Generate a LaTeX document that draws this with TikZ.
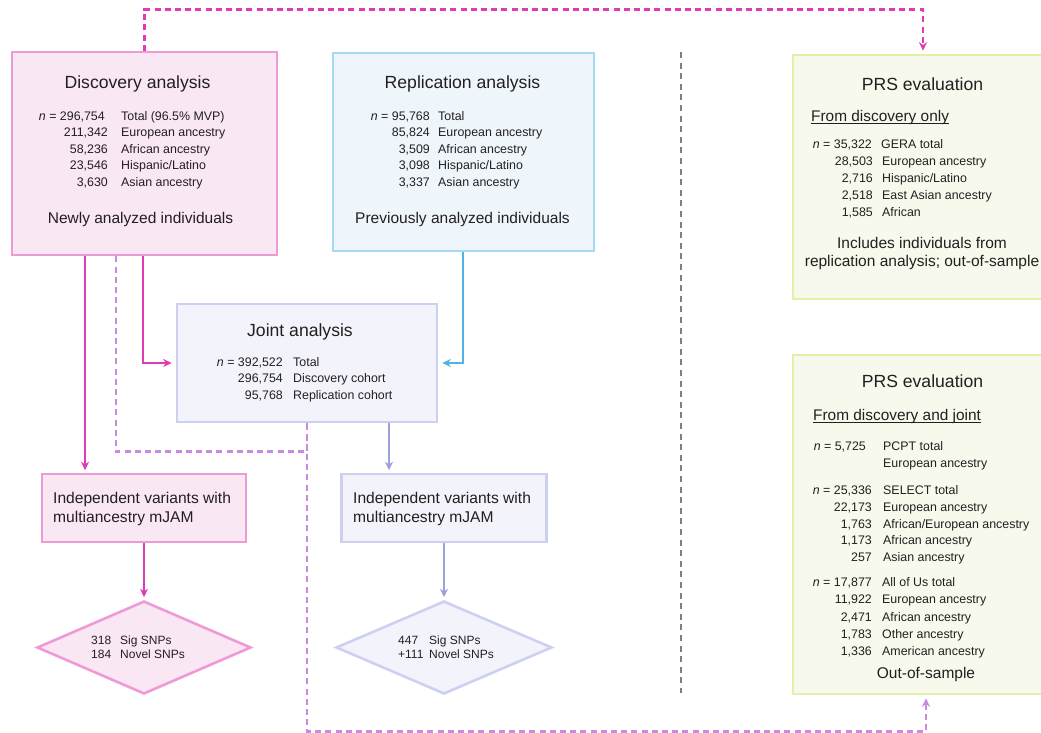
\documentclass[tikz,border=0pt]{standalone}
\usepackage{fontspec}
\setmainfont{Liberation Sans}
\usetikzlibrary{arrows.meta,shapes.geometric}

\definecolor{ink}{HTML}{231F20}
\definecolor{mag}{HTML}{E03BB5}
\definecolor{dfill}{HTML}{FAE7F4}
\definecolor{dline}{HTML}{EE9AD7}
\definecolor{rfill}{HTML}{EEF6FC}
\definecolor{rline}{HTML}{A6DAF3}
\definecolor{rarrow}{HTML}{4FB3E6}
\definecolor{jfill}{HTML}{F3F4FB}
\definecolor{jline}{HTML}{CDD0F1}
\definecolor{jarrow}{HTML}{9CA1DE}
\definecolor{pdashc}{HTML}{CA8ADF}
\definecolor{pfill}{HTML}{F7F9EC}
\definecolor{pline}{HTML}{E2F0A8}
\definecolor{gdashc}{HTML}{7F7F7F}

\tikzset{
  box/.style={draw, rectangle, line width=2.6, inner sep=0},
  dia/.style={draw, diamond, line width=2.6, inner sep=0, aspect=2.3},
  ttl/.style={font=\fontsize{17.6}{20}\selectfont, text=ink, inner sep=0, yshift=-1.5},
  numtxt/.style={anchor=mid east, font=\fontsize{12.4}{14}\selectfont, text=ink, inner sep=0, yshift=-2.5},
  labtxt/.style={anchor=mid west, font=\fontsize{12.4}{14}\selectfont, text=ink, inner sep=0, yshift=-2.5},
  dtxt/.style={anchor=mid west, font=\fontsize{12}{14}\selectfont, text=ink, inner sep=0, yshift=-2.5},
  foot/.style={font=\fontsize{15.5}{18.5}\selectfont, text=ink, inner sep=0, align=center, yshift=-1.5},
  sub/.style={anchor=mid west, font=\fontsize{15.4}{18}\selectfont, text=ink, inner sep=0, yshift=-2.5},
  uline/.style={draw=ink, line width=1},
  indtxt/.style={anchor=west, align=left, font=\fontsize{15.6}{19}\selectfont, text=ink, inner sep=0},
  conn/.style={line width=2.3, -{Stealth[length=8.5,width=8]}, shorten >=2.5},
  mdash/.style={draw=mag, line width=2.8, dash pattern=on 6 off 4.2, -{Stealth[length=8.5,width=8]}, shorten >=3},
  pdash/.style={draw=pdashc, line width=2.8, dash pattern=on 6 off 4.2},
  gdash/.style={draw=gdashc, line width=2.8, dash pattern=on 6 off 4.6}
}
\newcommand{\trow}[6]{\node[numtxt] (#1n) at (#2,#4) {#5};\node[labtxt] (#1l) at (#3,#4) {#6};}

\begin{document}
\begin{tikzpicture}[x=1pt,y=-1pt]
\useasboundingbox (0,0) rectangle (1041,732);
\clip (0,0) rectangle (1041,732);

% ---------- boxes ----------
\node[box, draw=dline, fill=dfill, minimum width=265, minimum height=203] (disc) at (144.5,153.5) {};
\node[box, draw=rline, fill=rfill, minimum width=261, minimum height=198] (repl) at (463.5,152) {};
\node[box, draw=jline, fill=jfill, minimum width=260, minimum height=118] (joint) at (307,363) {};
\node[box, draw=dline, fill=dfill, minimum width=204, minimum height=68] (lind) at (144,508) {};
\node[box, draw=jline, fill=jfill, minimum width=205, minimum height=68] (rind) at (444,508) {};
\node[dia, draw=dline, fill=dfill, minimum width=214, minimum height=93] (ldia) at (144,647.5) {};
\node[dia, draw=jline, fill=jfill, minimum width=216, minimum height=93] (rdia) at (444,647.5) {};
\node[box, draw=pline, fill=pfill, minimum width=260, minimum height=244] (prs1) at (923,177) {};
\node[box, draw=pline, fill=pfill, minimum width=260, minimum height=339] (prs2) at (923,524.5) {};

% ---------- discovery ----------
\node[ttl] (dtitle) at (137.5,82) {Discovery analysis};
\trow{d1}{105}{121}{115}{\textit{n} = 296,754}{Total (96.5\% MVP)}
\trow{d2}{108}{121}{131.6}{211,342}{European ancestry}
\trow{d3}{108}{121}{148.2}{58,236}{African ancestry}
\trow{d4}{108}{121}{164.8}{23,546}{Hispanic/Latino}
\trow{d5}{108}{121}{181.4}{3,630}{Asian ancestry}
\node[foot] (dfoot) at (140.5,218) {Newly analyzed individuals};

% ---------- replication ----------
\node[ttl] (rtitle) at (462.5,82) {Replication analysis};
\trow{r1}{430}{438}{115}{\textit{n} = 95,768}{Total}
\trow{r2}{430}{438}{131.6}{85,824}{European ancestry}
\trow{r3}{430}{438}{148.2}{3,509}{African ancestry}
\trow{r4}{430}{438}{164.8}{3,098}{Hispanic/Latino}
\trow{r5}{430}{438}{181.4}{3,337}{Asian ancestry}
\node[foot] (rfoot) at (462.5,218) {Previously analyzed individuals};

% ---------- joint ----------
\node[ttl] (jtitle) at (300,330) {Joint analysis};
\trow{j1}{283}{293}{361}{\textit{n} = 392,522}{Total}
\trow{j2}{283}{293}{377.5}{296,754}{Discovery cohort}
\trow{j3}{283}{293}{394}{95,768}{Replication cohort}

% ---------- independent variants ----------
\node[indtxt] (lindt) at (53,508.5) {Independent variants with\\multiancestry mJAM};
\node[indtxt] (rindt) at (353,508.5) {Independent variants with\\multiancestry mJAM};

% ---------- diamonds ----------
\node[dtxt] (ld1n) at (91,639) {318};
\node[dtxt] (ld1l) at (120,639) {Sig SNPs};
\node[dtxt] (ld2n) at (91,653) {184};
\node[dtxt] (ld2l) at (120,653) {Novel SNPs};
\node[dtxt] (rd1n) at (398,639) {447};
\node[dtxt] (rd1l) at (429,639) {Sig SNPs};
\node[dtxt] (rd2n) at (398,653) {+111};
\node[dtxt] (rd2l) at (429,653) {Novel SNPs};

% ---------- PRS top ----------
\node[ttl] (p1title) at (922.5,83) {PRS evaluation};
\node[sub] (p1sub) at (811,116) {From discovery only};
\draw[uline] ([yshift=-2.3]p1sub.base west) -- ([yshift=-2.3]p1sub.base east);
\trow{p1}{872}{881}{143}{\textit{n} = 35,322}{GERA total}
\trow{p2}{873}{882}{160}{28,503}{European ancestry}
\trow{p3}{873}{882}{177.3}{2,716}{Hispanic/Latino}
\trow{p4}{873}{882}{194.5}{2,518}{East Asian ancestry}
\trow{p5}{873}{882}{211.5}{1,585}{African}
\node[foot] (p1foot) at (922,252) {Includes individuals from\\replication analysis; out-of-sample};

% ---------- PRS bottom ----------
\node[ttl] (p2title) at (922.5,380) {PRS evaluation};
\node[sub] (p2sub) at (813,415) {From discovery and joint};
\draw[uline] ([yshift=-2.3]p2sub.base west) -- ([yshift=-2.3]p2sub.base east);
\trow{q1}{866}{883}{445}{\textit{n} = 5,725}{PCPT total}
\node[labtxt] (q1b) at (883,462) {European ancestry};
\trow{q2}{872}{883}{489}{\textit{n} = 25,336}{SELECT total}
\trow{q3}{872}{883}{506}{22,173}{European ancestry}
\trow{q4}{872}{883}{523}{1,763}{African/European ancestry}
\trow{q5}{872}{883}{539.5}{1,173}{African ancestry}
\trow{q6}{872}{883}{556}{257}{Asian ancestry}
\trow{q7}{872}{882}{581}{\textit{n} = 17,877}{All of Us total}
\trow{q8}{872}{882}{598}{11,922}{European ancestry}
\trow{q9}{872}{882}{616}{2,471}{African ancestry}
\trow{q10}{872}{882}{633}{1,783}{Other ancestry}
\trow{q11}{872}{882}{650}{1,336}{American ancestry}
\node[foot] (p2foot) at (926,673) {Out-of-sample};

% ---------- divider ----------
\draw[gdash] (681,52) -- (681,693);

% ---------- connectors ----------
\coordinate (a1) at ([xshift=-59.5]disc.south);
\draw[conn, mag] (a1) -- (a1 |- lind.north);
\coordinate (a2) at ([xshift=-1.5]disc.south);
\draw[conn, mag, shorten >=4] (a2) |- (joint.west);
\coordinate (a3) at ([xshift=-0.5]repl.south);
\draw[conn, rarrow, shorten >=4] (a3) |- (joint.east);
\coordinate (a4) at ([xshift=82]joint.south);
\draw[conn, jarrow] (a4) -- (a4 |- rind.north);
\draw[conn, mag] (lind.south) -- (ldia.north);
\draw[conn, jarrow] (rind.south) -- (rdia.north);

\draw[mdash] (disc.north) -- ++(0,-41) -| (prs1.north);
\coordinate (a6) at ([xshift=-28.5]disc.south);
\draw[pdash] (a6) -- ++(0,195.5) -| (joint.south);
\draw[pdash, -{Stealth[length=8.5,width=8]}, shorten >=3] (joint.south) -- ++(0,308) -| ([xshift=3]prs2.south);
\end{tikzpicture}
\end{document}
